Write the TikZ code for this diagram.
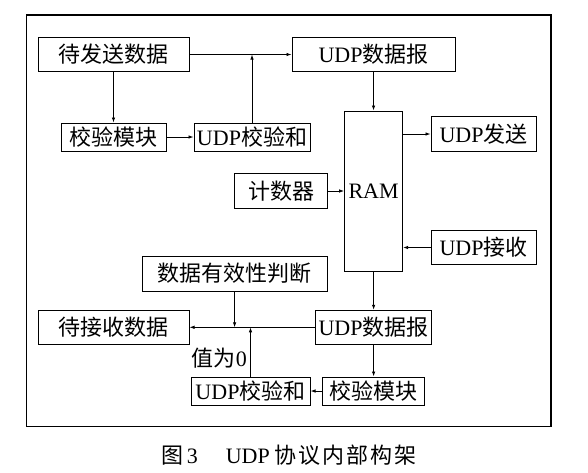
\documentclass[tikz,border=0pt]{standalone}
\usepackage{fontspec}
\setmainfont{Liberation Serif}
\newfontfamily\cjk{Noto Sans CJK SC}
\newcommand{\zh}[1]{{\cjk #1}}
\usetikzlibrary{arrows.meta,positioning}

\tikzset{
  box/.style={draw, line width=1pt, inner sep=0pt, font=\fontsize{22}{25}\selectfont},
  arr/.style={-{Latex[length=5pt,width=3.5pt]}, line width=0.8pt}
}

\begin{document}
\begin{tikzpicture}[x=1pt,y=-1pt]
    \useasboundingbox (0,0) rectangle (588,472);
    \draw[line width=1.3pt] (26.6,15) rectangle (551,426.7);
    % sending side
    \node[box, minimum width=151pt, minimum height=34pt] (tx)    at (113.5,54.5) {\zh{待发送数据}};
    \node[box, minimum width=163pt, minimum height=34pt] (udpA)  at (373.5,54.5) {UDP\zh{数据报}};
    \node[box, minimum width=105pt, minimum height=28pt] (jyA)   at (113.5,137)  {\zh{校验模块}};
    \node[box, minimum width=116pt, minimum height=28pt] (hA)    at (252,137)    {UDP\zh{校验和}};
    % RAM and its neighbours
    \node[box, minimum width=58pt,  minimum height=160pt] (ram)  at (373.6,191)  {RAM};
    \node[box, minimum width=105pt, minimum height=35pt] (send)  at (483.5,134)  {UDP\zh{发送}};
    \node[box, minimum width=93pt,  minimum height=35pt] (cnt)   at (281,191)    {\zh{计数器}};
    \node[box, minimum width=105pt, minimum height=34pt] (recv)  at (483.5,247.5) {UDP\zh{接收}};
    % receiving side
    \node[box, minimum width=185pt, minimum height=35pt] (valid) at (234.6,273.5) {\zh{数据有效性判断}};
    \node[box, minimum width=151pt, minimum height=34pt] (rx)    at (113.5,327.3) {\zh{待接收数据}};
    \node[box, minimum width=116pt, minimum height=34pt] (udpB)  at (373.6,327.3) {UDP\zh{数据报}};
    \node[box, minimum width=119pt, minimum height=28pt] (hB)    at (250.5,391)  {UDP\zh{校验和}};
    \node[box, minimum width=102pt, minimum height=28pt] (jyB)   at (373.6,391)  {\zh{校验模块}};

    \draw[arr] (tx) -- (udpA);
    \draw[arr] (hA) -- (hA |- tx);
    \draw[arr] (tx) -- (jyA);
    \draw[arr] (jyA) -- (hA);
    \draw[arr] (udpA) -- (ram);
    \draw[arr] (ram.east |- send) -- (send);
    \draw[arr] (cnt) -- (ram);
    \draw[arr] (recv) -- (ram.east |- recv);
    \draw[arr] (ram) -- (udpB);
    \draw[arr] (udpB) -- (rx);
    \draw[arr] (valid) -- (valid |- rx);
    \draw[arr] (hB) -- (hB |- rx);
    \draw[arr] (udpB) -- (jyB);
    \draw[arr] (jyB) -- (hB);
    \node[font=\fontsize{22}{25}\selectfont, anchor=east, inner sep=0pt] (zero) at (247,358) {\zh{值为}0};

    \node[font=\fontsize{22}{25}\selectfont] (cap) at (289,455)
      {\zh{图}\,3\hspace{28pt}UDP\hspace{5pt}\zh{协\hspace{2pt}议\hspace{2pt}内\hspace{2pt}部\hspace{2pt}构\hspace{2pt}架}};
  \end{tikzpicture}
\end{document}
